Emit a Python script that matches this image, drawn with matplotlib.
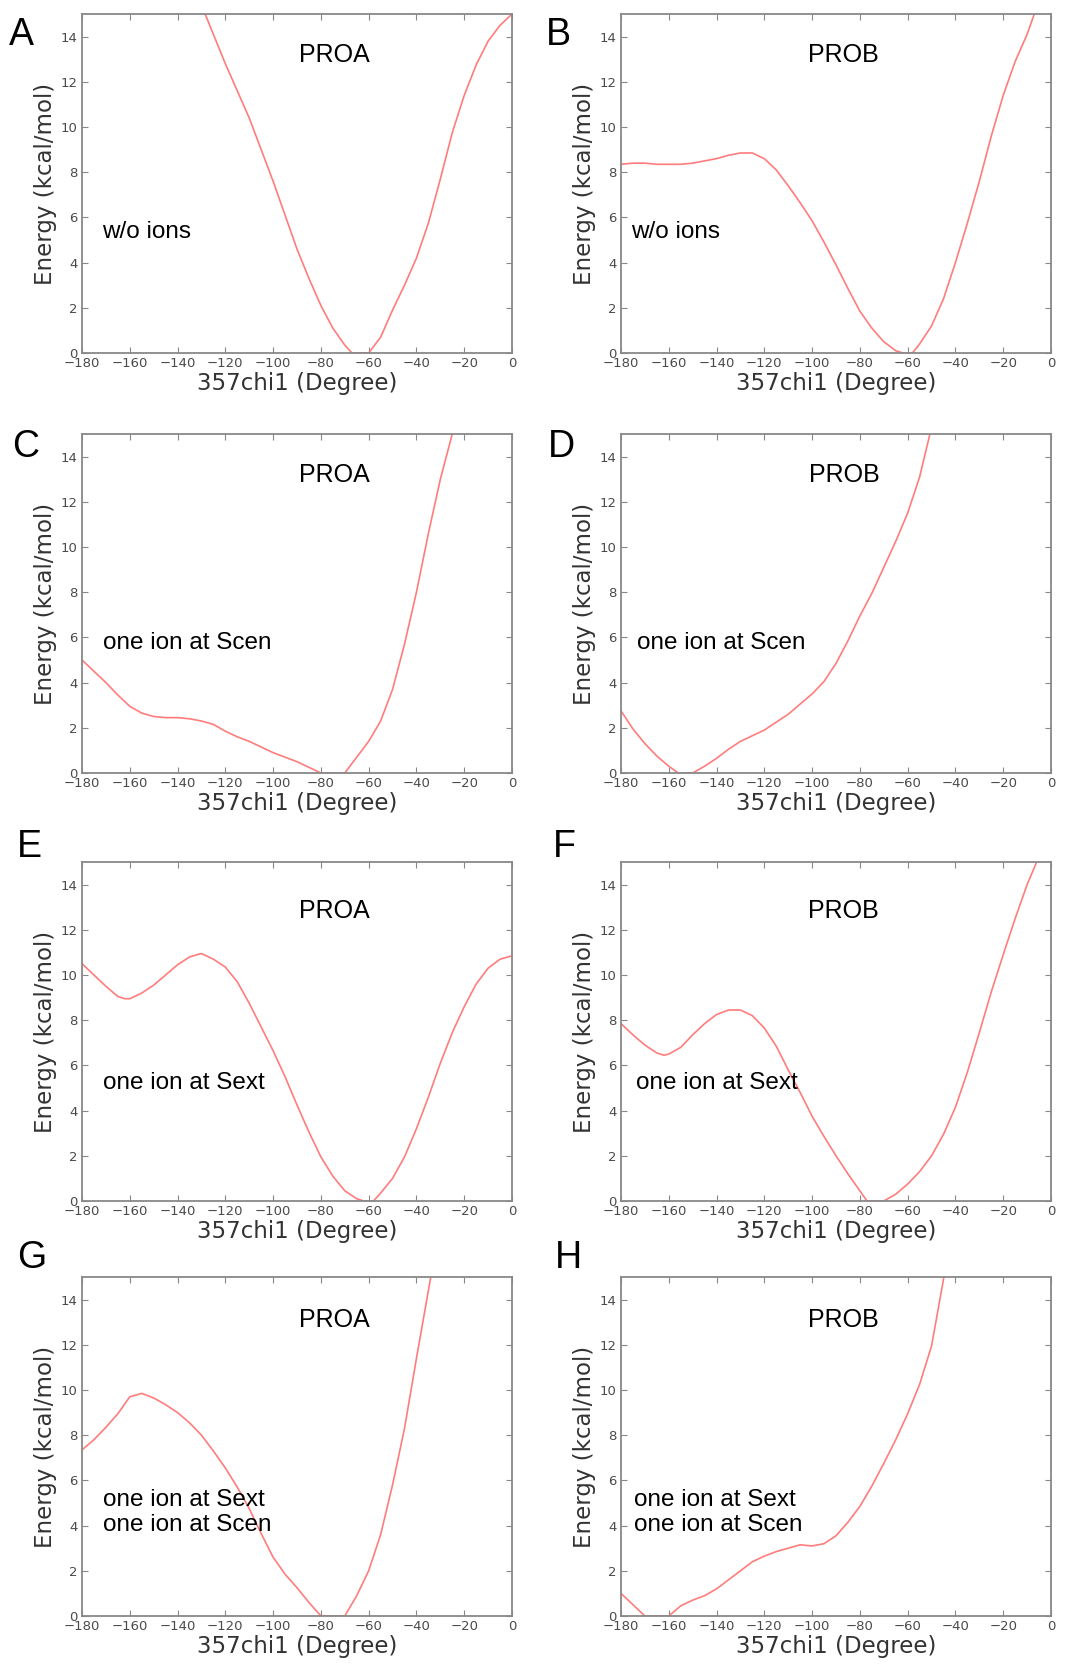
import numpy as np
import matplotlib
matplotlib.use("Agg")
from matplotlib import pyplot as plt

# Data, chi1 angle in degrees -> energy in kcal/mol
chi_a = [-131, -130, -125, -120, -115, -110, -105, -100, -95, -90, -85, -80, -75, -70, -67,
         -65, -60, -55, -50, -45, -40, -35, -30, -25, -20, -15, -10, -5, -2, 0]
e_a = [15.8, 15.4, 14.1, 12.8, 11.6, 10.4, 9.0, 7.6, 6.1, 4.6, 3.3, 2.1, 1.1, 0.35, 0.0,
       0.0, 0.0, 0.7, 1.9, 3.0, 4.2, 5.75, 7.7, 9.75, 11.4, 12.75, 13.8, 14.5, 14.8, 15.0]

chi_b = [-180, -175, -170, -165, -160, -155, -150, -145, -140, -135, -130, -125, -120, -115,
         -110, -105, -100, -95, -90, -85, -80, -75, -70, -65, -62, -58, -55, -50, -45, -40,
         -35, -30, -25, -20, -15, -10, -7, -5]
e_b = [8.35, 8.4, 8.4, 8.35, 8.35, 8.35, 8.4, 8.5, 8.6, 8.75, 8.85, 8.85, 8.6, 8.1,
       7.4, 6.65, 5.85, 4.9, 3.9, 2.85, 1.85, 1.1, 0.5, 0.1, 0.0, 0.0, 0.4, 1.2, 2.4, 4.0,
       5.75, 7.6, 9.6, 11.4, 12.9, 14.1, 15.0, 15.8]

chi_c = [-180, -175, -170, -165, -160, -155, -150, -145, -140, -135, -130, -125, -120, -115,
         -110, -105, -100, -95, -90, -85, -80, -75, -70, -65, -60, -55, -50, -45, -40, -35,
         -30, -25, -23]
e_c = [5.0, 4.5, 4.0, 3.45, 2.95, 2.65, 2.5, 2.45, 2.45, 2.4, 2.3, 2.15, 1.85, 1.6,
       1.4, 1.15, 0.9, 0.7, 0.5, 0.25, 0.0, 0.0, 0.0, 0.7, 1.4, 2.3, 3.7, 5.7, 8.0, 10.6,
       13.0, 15.0, 16.0]

chi_d = [-180, -175, -170, -165, -160, -156, -150, -145, -140, -135, -130, -125, -120, -115,
         -110, -105, -100, -95, -90, -85, -80, -75, -70, -65, -60, -55, -50]
e_d = [2.75, 1.95, 1.3, 0.75, 0.3, 0.0, 0.0, 0.3, 0.65, 1.05, 1.4, 1.65, 1.9, 2.25,
       2.6, 3.05, 3.5, 4.05, 4.85, 5.85, 6.95, 7.95, 9.1, 10.25, 11.5, 13.1, 15.3]

chi_e = [-180, -175, -170, -165, -162, -160, -155, -150, -145, -140, -135, -130, -125, -120,
         -115, -110, -105, -100, -95, -90, -85, -80, -75, -70, -65, -62, -58, -55, -50, -45,
         -40, -35, -30, -25, -20, -15, -10, -5, 0]
e_e = [10.5, 10.0, 9.5, 9.05, 8.95, 8.95, 9.2, 9.55, 10.0, 10.45, 10.8, 10.95, 10.7, 10.35,
       9.7, 8.75, 7.7, 6.65, 5.5, 4.25, 3.05, 1.95, 1.1, 0.45, 0.1, 0.0, 0.0, 0.35, 1.0, 1.95,
       3.2, 4.6, 6.1, 7.45, 8.6, 9.6, 10.3, 10.7, 10.85]

chi_f = [-180, -175, -170, -165, -162, -160, -155, -150, -145, -140, -135, -130, -125, -120,
         -115, -110, -105, -100, -95, -90, -85, -80, -77, -70, -65, -60, -55, -50, -45, -40,
         -35, -30, -25, -20, -15, -10, -6, -4]
e_f = [7.85, 7.35, 6.9, 6.55, 6.45, 6.5, 6.8, 7.35, 7.85, 8.25, 8.45, 8.45, 8.2, 7.65,
       6.85, 5.8, 4.8, 3.75, 2.85, 2.0, 1.2, 0.45, 0.0, 0.0, 0.3, 0.75, 1.3, 2.0, 2.95, 4.15,
       5.7, 7.45, 9.25, 10.9, 12.5, 14.0, 15.0, 15.6]

chi_g = [-180, -175, -170, -165, -160, -155, -150, -145, -140, -135, -130, -125, -120, -115,
         -110, -105, -100, -95, -90, -85, -80, -75, -70, -65, -60, -55, -50, -45, -40, -35, -33]
e_g = [7.35, 7.8, 8.35, 8.95, 9.7, 9.85, 9.65, 9.35, 9.0, 8.55, 8.0, 7.3, 6.55, 5.7,
       4.75, 3.65, 2.6, 1.85, 1.25, 0.6, 0.0, 0.0, 0.0, 0.9, 2.0, 3.6, 5.8, 8.3, 11.4, 14.4, 15.6]

chi_h = [-180, -175, -170, -165, -160, -155, -150, -145, -140, -135, -130, -125, -120, -115,
         -110, -105, -100, -95, -90, -85, -80, -75, -70, -65, -60, -55, -50, -45, -44]
e_h = [1.0, 0.5, 0.0, 0.0, 0.0, 0.45, 0.7, 0.9, 1.2, 1.6, 2.0, 2.4, 2.65, 2.85,
       3.0, 3.15, 3.1, 3.2, 3.55, 4.15, 4.85, 5.75, 6.75, 7.8, 8.95, 10.25, 11.95, 14.9, 15.6]

letters = ["A", "B", "C", "D", "E", "F", "G", "H"]
proteins = ["PROA", "PROB"] * 4
conditions = ["w/o ions", "w/o ions",
              "one ion at Scen", "one ion at Scen",
              "one ion at Sext", "one ion at Sext",
              "one ion at Sext\none ion at Scen", "one ion at Sext\none ion at Scen"]
curves = [(chi_a, e_a), (chi_b, e_b), (chi_c, e_c), (chi_d, e_d),
          (chi_e, e_e), (chi_f, e_f), (chi_g, e_g), (chi_h, e_h)]

W, H = 1067, 1664
fig = plt.figure(figsize=(W / 100, H / 100), dpi=100)

# axes boxes in pixels (left, right, top, bottom)
cols = [(82, 512), (621, 1051)]
rows = [(14, 353), (434, 773), (862, 1201), (1277, 1616)]
# panel letter positions (x left, baseline y) in pixels
letter_pos = [(9, 45), (546, 45), (12, 457), (548, 457),
              (17, 857), (553, 857), (17, 1268), (555, 1268)]
# text positions in axes fraction
prot_pos = [(0.587, 0.879), (0.516, 0.879), (0.587, 0.879), (0.519, 0.879),
            (0.587, 0.855), (0.516, 0.855), (0.587, 0.872), (0.516, 0.872)]
cond_pos = [(0.046, 0.356), (0.023, 0.356), (0.048, 0.383), (0.038, 0.383),
            (0.048, 0.349), (0.035, 0.349), (0.048, 0.305), (0.030, 0.305)]

arial = ["Liberation Sans", "DejaVu Sans"]

for i in range(8):
    r, c = divmod(i, 2)
    x0, x1 = cols[c]
    y0, y1 = rows[r]
    ax = fig.add_axes([x0 / W, 1 - y1 / H, (x1 - x0) / W, (y1 - y0) / H])
    chi, ene = curves[i]
    ax.plot(chi, ene, color="#ff7c7c", lw=1.2)
    ax.set_xlim(-180, 0)
    ax.set_ylim(0, 15)
    ax.set_xticks(np.arange(-180, 1, 20))
    ax.set_yticks(np.arange(0, 15, 2))
    ax.tick_params(direction="in", top=True, right=True, labelsize=9.5,
                   labelcolor="#4a4a4a", color="#888888", length=4, pad=3)
    for s in ax.spines.values():
        s.set_color("#888888")
        s.set_linewidth(1.3)
    ax.set_xlabel("357chi1 (Degree)", fontsize=16.5, color="#333333", labelpad=1)
    ax.set_ylabel("Energy (kcal/mol)", fontsize=16.5, color="#333333", labelpad=3)
    ax.text(prot_pos[i][0], prot_pos[i][1], proteins[i], transform=ax.transAxes,
            ha="center", va="center", fontsize=18, family=arial)
    ax.text(cond_pos[i][0], cond_pos[i][1], conditions[i], transform=ax.transAxes,
            ha="left", va="center", fontsize=17.5, family=arial, linespacing=1.2)
    lx, ly = letter_pos[i]
    fig.text(lx / W, 1 - ly / H, letters[i], ha="left", va="baseline",
             fontsize=27, family=arial)

fig.savefig("out.png", dpi=100)
